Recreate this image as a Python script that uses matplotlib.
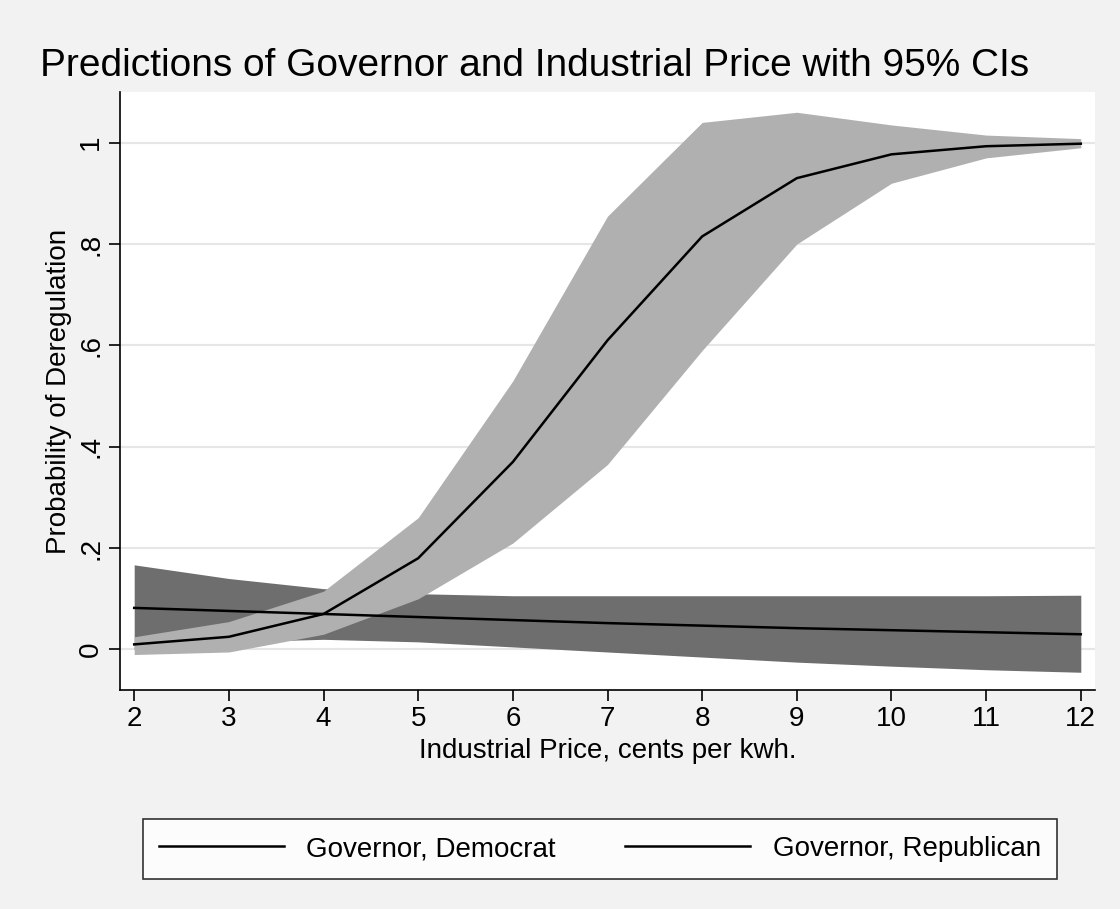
import numpy as np
import matplotlib.pyplot as plt

price = [2, 3, 4, 5, 6, 7, 8, 9, 10, 11, 12]

# steep curve (light band)
dem = [0.01, 0.025, 0.07, 0.18, 0.37, 0.61, 0.815, 0.93, 0.977, 0.993, 0.998]
dem_hi = [0.025, 0.055, 0.115, 0.26, 0.53, 0.855, 1.04, 1.06, 1.035, 1.015, 1.008]
dem_lo = [-0.01, -0.005, 0.03, 0.10, 0.21, 0.365, 0.59, 0.80, 0.92, 0.97, 0.99]

# flat curve (dark band)
rep = [0.082, 0.076, 0.07, 0.064, 0.058, 0.052, 0.047, 0.042, 0.038, 0.034, 0.030]
rep_hi = [0.167, 0.14, 0.12, 0.11, 0.106, 0.106, 0.106, 0.106, 0.106, 0.106, 0.107]
rep_lo = [0.0, 0.015, 0.02, 0.015, 0.005, -0.005, -0.015, -0.025, -0.033, -0.04, -0.045]

yticks = [0, 0.2, 0.4, 0.6, 0.8, 1.0]
ylabels = ['0', '.2', '.4', '.6', '.8', '1']

plt.rcParams['font.family'] = ['Liberation Sans', 'DejaVu Sans']
fig = plt.figure(figsize=(11.2, 9.09), dpi=100, facecolor='#f2f2f2')
ax = fig.add_axes([120/1120, 1 - 690/909, 975/1120, 598/909])
ax.set_facecolor('white')

ax.fill_between(price, rep_lo, rep_hi, color='#6e6e6e', lw=0)
ax.fill_between(price, dem_lo, dem_hi, color='#b0b0b0', lw=0)
l1, = ax.plot(price, dem, color='black', lw=1.8)
l2, = ax.plot(price, rep, color='black', lw=1.8)

ax.set_xlim(1.85, 12.15)
ax.set_ylim(-0.08, 1.1)
ax.set_xticks(price)
ax.set_yticks(yticks)
ax.set_yticklabels(ylabels, rotation=90, va='center')
ax.tick_params(labelsize=20, length=8, width=1.2)
ax.grid(axis='y', color='#e6e6e6', lw=1.5)
ax.set_axisbelow(True)
for s in ['top', 'right']:
    ax.spines[s].set_visible(False)
for s in ['left', 'bottom']:
    ax.spines[s].set_linewidth(1.2)
ax.set_xlabel('Industrial Price, cents per kwh.', fontsize=20)
ax.set_ylabel('Probability of Deregulation', fontsize=20)
fig.text(40/1120, 1 - 66/909, 'Predictions of Governor and Industrial Price with 95% CIs',
         fontsize=28, va='center')

leg = fig.legend([l1, l2], ['Governor, Democrat', 'Governor, Republican'],
                 loc='center', bbox_to_anchor=(600/1120, 1 - 849/909), ncol=2,
                 fontsize=20, frameon=True, fancybox=False, handlelength=4.5,
                 columnspacing=2.5, borderpad=0.6, edgecolor='black')
leg.get_frame().set_linewidth(1.2)

fig.savefig('out.png', dpi=100, facecolor=fig.get_facecolor())
